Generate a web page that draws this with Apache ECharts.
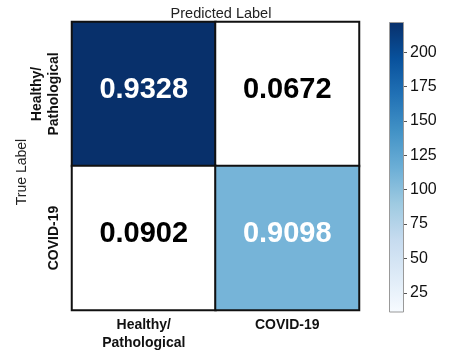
<!DOCTYPE html>
<html>
<head>
<meta charset="utf-8">
<script src="https://cdn.jsdelivr.net/npm/echarts@6/dist/echarts.min.js"></script>
<style>
html,body{margin:0;padding:0;background:#fff;}
#c{width:449px;height:352px;}
</style>
</head>
<body>
<div id="c"></div>
<script>
const predLabels = ['Healthy/\nPathological', 'COVID-19'];
const trueLabels = ['Healthy/\nPathological', 'COVID-19'];
const counts = [[222, 16], [11, 111]];
const rates = [[0.9328, 0.0672], [0.0902, 0.9098]];
const colorbarTicks = [25, 50, 75, 100, 125, 150, 175, 200];
const countMin = 11;
const countMax = 222;
const blues = ['#f7fbff','#deebf7','#c6dbef','#9ecae1','#6baed6','#4292c6','#2171b5','#08519c','#08306b'];

const FONT = '"Liberation Sans", Arial, sans-serif';
const heatData = [];
for (let r = 0; r < trueLabels.length; r++) {
  for (let c = 0; c < predLabels.length; c++) {
    heatData.push([c, r, counts[r][c], rates[r][c]]);
  }
}
const mid = (countMin + countMax) / 2;

const chart = echarts.init(document.getElementById('c'), null, {renderer: 'canvas'});
chart.setOption({
  animation: false,
  backgroundColor: '#fff',
  title: {
    text: 'Predicted Label',
    left: 216, top: 1, textAlign: 'center',
    textStyle: {fontFamily: FONT, fontSize: 14.5, fontWeight: 'normal', color: '#222'}
  },
  graphic: [{
    type: 'text', x: 22, y: 172, rotation: Math.PI / 2,
    style: {text: 'True Label', fontFamily: FONT, fontSize: 14, fill: '#222', align: 'center', verticalAlign: 'middle'}
  }],
  grid: [
    {left: 72, top: 22, width: 287, height: 291, containLabel: false},
    {left: 389, top: 22, width: 15, height: 290, containLabel: false}
  ],
  xAxis: [
    {
      gridIndex: 0, type: 'category', data: predLabels, position: 'bottom',
      axisLine: {show: false}, axisTick: {show: false}, splitArea: {show: false},
      axisLabel: {fontFamily: FONT, fontSize: 14, fontWeight: 'bold', color: '#111', margin: 6, lineHeight: 18}
    },
    {
      gridIndex: 1, type: 'category', data: [''], show: false
    }
  ],
  yAxis: [
    {
      gridIndex: 0, type: 'category', data: trueLabels, inverse: true,
      axisLine: {show: false}, axisTick: {show: false},
      axisLabel: {fontFamily: FONT, fontSize: 14, fontWeight: 'bold', color: '#111', rotate: 90, margin: 9, lineHeight: 17}
    },
    {
      gridIndex: 1, type: 'value', min: countMin, max: countMax, position: 'right',
      splitLine: {show: false},
      axisLine: {show: false},
      axisTick: {show: true, length: 3, customValues: colorbarTicks, lineStyle: {color: '#555', width: 1}},
      axisLabel: {show: true, customValues: colorbarTicks, margin: 6, fontFamily: FONT, fontSize: 16, color: '#111'}
    }
  ],
  visualMap: {
    show: false, type: 'continuous', min: countMin, max: countMax, dimension: 2, seriesIndex: 0,
    range: [countMin + 10, countMax],
    inRange: {color: blues},
    outOfRange: {color: '#ffffff'}
  },
  series: [
    {
      type: 'heatmap', xAxisIndex: 0, yAxisIndex: 0, data: heatData,
      itemStyle: {borderColor: '#111', borderWidth: 2},
      label: {
        show: true,
        offset: [0, -4],
        formatter: p => (p.value[2] > mid || p.value[3] > 0.5 ? '{w|' : '{k|') + p.value[3].toFixed(4) + '}',
        rich: {
          w: {color: '#fff', fontFamily: FONT, fontSize: 29, fontWeight: 'bold'},
          k: {color: '#000', fontFamily: FONT, fontSize: 29, fontWeight: 'bold'}
        }
      }
    },
    {
      type: 'bar', xAxisIndex: 1, yAxisIndex: 1, data: [countMax], barWidth: '100%',
      silent: true,
      itemStyle: {
        borderColor: '#999', borderWidth: 1,
        color: new echarts.graphic.LinearGradient(0, 1, 0, 0,
          blues.map((c, i) => ({offset: i / (blues.length - 1), color: c})))
      }
    }
  ]
});
</script>
</body>
</html>
